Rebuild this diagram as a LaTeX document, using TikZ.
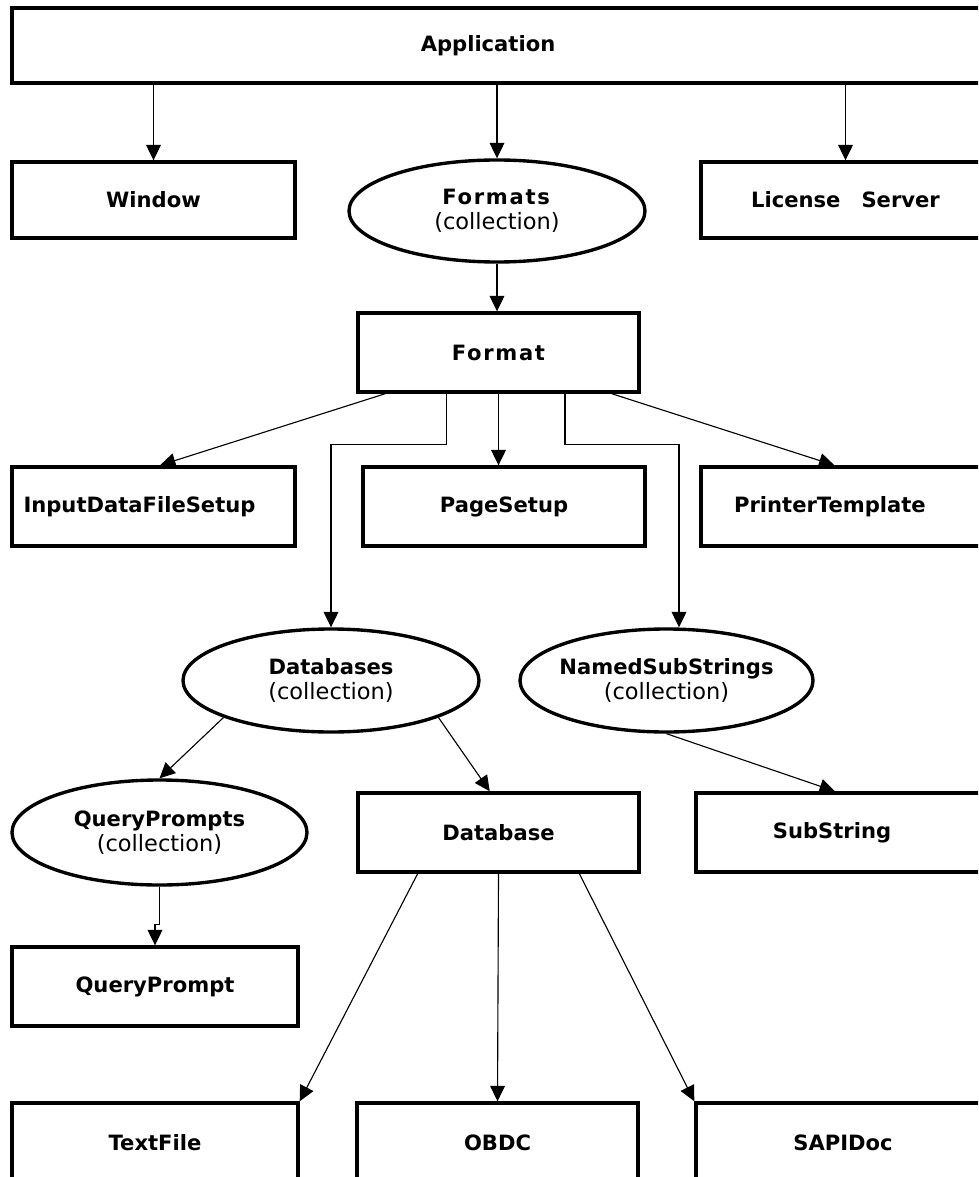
\documentclass[tikz,border=0pt]{standalone}
\usepackage{fontspec}
\setmainfont{DejaVu Sans}
\newfontfamily\spacedfont[LetterSpace=8]{DejaVu Sans}
\usetikzlibrary{arrows.meta,shapes.geometric}
\newcommand{\collof}[1]{\makebox[0pt]{\textbf{#1}}\\\makebox[0pt]{\fontsize{16}{18}\selectfont(collection)}}

\begin{document}
\begin{tikzpicture}[
  obj/.style={draw, line width=2.4pt, minimum height=1.975cm, inner sep=0pt,
    font=\fontsize{15}{18}\selectfont\bfseries},
  coll/.style={draw, ellipse, line width=2.4pt, inner sep=0pt, align=center,
    font=\fontsize{15}{18}\selectfont},
  arr/.style={line width=0.8pt, -{Triangle[length=11pt,width=10.5pt]}}
]
\useasboundingbox (0,0) rectangle (24.45,-29.425);
\clip (0,0) rectangle (24.45,-29.425);
\fill[white] (0,0) rectangle (24.45,-29.425);

\node[obj, minimum width=24.7cm, minimum height=1.875cm] (app) at (12.65,-1.1375) {Application\hspace*{0.9cm}};
\node[obj, minimum width=7.075cm, minimum height=1.9cm] (win) at (3.8375,-5.0) {Window};
\node[coll, minimum width=7.4cm, minimum height=2.55cm] (fmts) at (12.425,-5.275) {\collof{\spacedfont Formats}};
\node[obj, minimum width=7.225cm, minimum height=1.9cm] (lic) at (21.1375,-5.0) {License\quad Server};

\node[obj, minimum width=7.025cm] (fmt) at (12.4625,-8.8125) {\spacedfont Format};
\node[obj, minimum width=7.075cm] (idfs) at (3.8375,-12.6625) {InputDataFileSetup\hspace*{0.7cm}};
\node[obj, minimum width=7.05cm] (page) at (12.6,-12.6625) {PageSetup};
\node[obj, minimum width=7.225cm] (prt) at (21.1375,-12.6625) {PrinterTemplate\hspace*{0.78cm}};

\node[coll, minimum width=7.4cm, minimum height=2.575cm] (dbs) at (8.275,-17.0125) {\collof{Databases}};
\node[coll, minimum width=7.325cm, minimum height=2.575cm] (nss) at (16.6625,-17.0125) {\collof{NamedSubStrings}};
\node[coll, minimum width=7.375cm, minimum height=2.625cm] (qps) at (3.9875,-20.8125) {\collof{QueryPrompts}};
\node[obj, minimum width=7.025cm] (db) at (12.4625,-20.8125) {Database};
\node[obj, minimum width=7.35cm] (sub) at (21.075,-20.8125) {SubString\hspace*{0.55cm}};

\node[obj, minimum width=7.15cm] (qp) at (3.875,-24.6625) {QueryPrompt};
\node[obj, minimum width=7.15cm] (tf) at (3.875,-28.5625) {TextFile};
\node[obj, minimum width=7.025cm] (obdc) at (12.4375,-28.5625) {OBDC};
\node[obj, minimum width=7.35cm] (sapi) at (21.075,-28.5625) {SAPIDoc};

\draw[arr] (win.north |- app.south) -- (win.north);
\draw[arr] (fmts.north |- app.south) -- (fmts.north);
\draw[arr] (lic.north |- app.south) -- (lic.north);
\draw[arr] (fmts.south) -- (fmts.south |- fmt.north);

\draw[arr] (fmt.200) -- (idfs.81);
\draw[arr] (fmt.south) -- (fmt.south |- page.north);
\draw[arr] (fmt.-20) -- (prt.105);
\draw[arr] ([xshift=-1.3cm]fmt.south) -- ++(0,-1.275) -| (dbs.north);
\draw[arr] ([xshift=1.6625cm]fmt.south) -- ++(0,-1.275) -| ([xshift=0.3125cm]nss.north);

\draw[arr] (dbs.199) -- (qps.north);
\draw[arr] (dbs.-19) -- (db.102);
\draw[arr] (nss.south) -- (sub.101);
\draw[arr] (qps.south) -- ++(0,-0.95) -| (qp.north);
\draw[arr] (db.207) -- (tf.north east);
\draw[arr] (db.south) -- (obdc.north);
\draw[arr] (db.-27) -- (sapi.north west);
\end{tikzpicture}
\end{document}
